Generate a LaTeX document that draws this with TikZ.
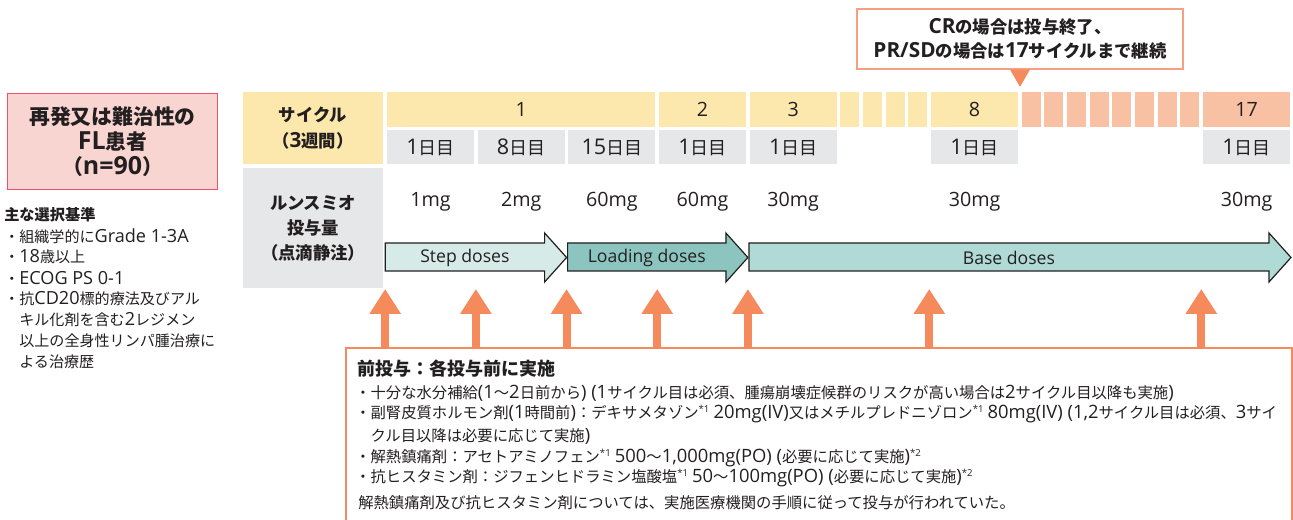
\documentclass[tikz,border=0pt]{standalone}
\usepackage{fontspec}
\setmainfont{Open Sans}[Scale=1.2]
\newfontfamily\latinfont{Open Sans}[Scale=1.2]
\newfontfamily\cjkfont{Noto Sans CJK JP}
\usetikzlibrary{arrows.meta}

% switch to the Japanese face for kana, kanji and full-width forms
\XeTeXinterchartokenstate=1
\newXeTeXintercharclass\cjkclass
\newcount\cjkcode
\cjkcode="3000
\loop \XeTeXcharclass\cjkcode=\cjkclass \advance\cjkcode by 1 \ifnum\cjkcode<"A000 \repeat
\cjkcode="FF00
\loop \XeTeXcharclass\cjkcode=\cjkclass \advance\cjkcode by 1 \ifnum\cjkcode<"FFF0 \repeat
\XeTeXinterchartoks 0 \cjkclass = {\cjkfont}
\XeTeXinterchartoks 4095 \cjkclass = {\cjkfont}
\XeTeXinterchartoks \cjkclass 0 = {\latinfont}
\XeTeXinterchartoks 4095 0 = {\latinfont}

\newcommand\notemark[1]{\textsuperscript{\fontsize{6}{6}\selectfont #1}}

\definecolor{ink}{HTML}{231F20}
\definecolor{cyclebg}{HTML}{FCE8AD}
\definecolor{latebg}{HTML}{F9C1A3}
\definecolor{daybg}{HTML}{E6E7E8}
\definecolor{pinkbg}{HTML}{F9D5D1}
\definecolor{pinkline}{HTML}{E9546B}
\definecolor{orangeline}{HTML}{F58A5D}
\definecolor{calloutline}{HTML}{F4A081}
\definecolor{stepbg}{HTML}{D6EBE8}
\definecolor{loadbg}{HTML}{8CC5C0}
\definecolor{basebg}{HTML}{AFDAD6}

\begin{document}
\begin{tikzpicture}[
    x=0.75pt, y=-0.75pt,
    every node/.style={text=ink, inner sep=0pt},
    headcell/.style={fill=#1, minimum width=105pt, align=center,
        font=\fontsize{13}{20}\selectfont\bfseries},
    num/.style={font=\fontsize{12.3}{16}\selectfont},
    day/.style={font=\fontsize{13.5}{16}\selectfont},
    band/.style={draw=ink, line width=0.9pt},
    bandlabel/.style={font=\fontsize{11}{15}\selectfont},
    premed/.style={draw=orangeline, line width=6pt,
        -{Triangle[width=22.5pt,length=18.75pt]}},
    crit/.style={anchor=west, font=\fontsize{11.3}{13}\selectfont},
    body/.style={anchor=west, font=\fontsize{11.5}{13}\selectfont}
]
    \useasboundingbox (0,0) rectangle (1293,520);
    \clip (0,0) rectangle (1293,520);

    % patients
    \node[fill=pinkbg, draw=pinkline, line width=0.8pt,
          minimum width=158pt, minimum height=72.5pt, align=center,
          font=\fontsize{15.6}{18.75}\selectfont\bfseries]
        (patient) at (112.5,141.5) {再発又は難治性の\\FL患者\\（n=90）};

    \node[crit, font=\fontsize{11.4}{13}\selectfont\bfseries] (crithead) at (4,215) {主な選択基準};
    \node[crit] (crit1) at (4,236) {・組織学的にGrade 1-3A};
    \node[crit] (crit2) at (4,257) {・18歳以上};
    \node[crit] (crit3) at (4,278) {・ECOG PS 0-1};
    \node[crit] (crit4) at (4,299) {・抗CD20標的療法及びアル};
    \node[crit] (crit5) at (4,320) {　キル化剤を含む2レジメン};
    \node[crit] (crit6) at (4,341) {　以上の全身性リンパ腫治療に};
    \node[crit] (crit7) at (4,362) {　よる治療歴};

    % row headers
    \node[headcell=cyclebg, minimum height=54pt] (cyclehead) at (313,128) {サイクル\\（3週間）};
    \node[headcell=daybg, minimum height=90pt, font=\fontsize{13}{18.75}\selectfont\bfseries]
        (dosehead) at (313,228) {ルンスミオ\\投与量\\（点滴静注）};

    % cycles (one unit = 22.67)
    \foreach \a/\b/\lab in {0/12/1, 12/16/2, 16/20/3, 24/28/8} {
        \fill[cyclebg] ({387+\a*22.67},92) rectangle ({387+\b*22.67-3.7},127);
        \node[num] (cyc\lab) at ({387+(\a+\b)*11.335-1.85},109.5) {\lab};
    }
    \foreach \a in {20,...,23}
        \fill[cyclebg] ({387+\a*22.67},92) rectangle ({387+(\a+1)*22.67-3.7},127);
    \foreach \a in {28,...,35}
        \fill[latebg] ({387+\a*22.67},92) rectangle ({387+(\a+1)*22.67-3.7},127);
    \fill[latebg] ({387+36*22.67},92) rectangle ({387+40*22.67-3.7},127);
    \node[num] (cyc17) at ({387+38*22.67-1.85},109.5) {17};

    % days and doses
    \foreach \a/\d/\mg/\nm in {0/1/1/a, 4/8/2/b, 8/15/60/c, 12/1/60/d, 16/1/30/e, 24/1/30/f, 36/1/30/g} {
        \fill[daybg] ({387+\a*22.67},130) rectangle ({387+(\a+4)*22.67-3.7},164);
        \node[day] (day\nm) at ({387+(\a+2)*22.67-1.85},147) {\d 日目};
        \node[num] (dose\nm) at ({387+(\a+2)*22.67-1.85},202) {\mg mg};
    }

    % dose bands
    \foreach \xa/\xt/\col/\lab/\nm in {385.2/566.6/stepbg/Step doses/stepband,
                                       567.6/747.9/loadbg/Loading doses/loadband,
                                       748.9/1291/basebg/Base doses/baseband} {
        \draw[band, fill=\col] (\xa,243) -- ({\xt-22},243) -- ({\xt-22},233) -- (\xt,257.5)
            -- ({\xt-22},282) -- ({\xt-22},271) -- (\xa,271) -- cycle;
        \node[bandlabel] (\nm) at ({(\xa+\xt-22)/2},257.5) {\lab};
    }

    % callout
    \node[draw=calloutline, line width=0.8pt, fill=white, minimum width=244.5pt,
          minimum height=45pt, align=center, font=\fontsize{13}{18}\selectfont\bfseries]
        (callout) at (1020,39) {CRの場合は投与終了、\\PR/SDの場合は17サイクルまで継続};
    \fill[orangeline] ([xshift=-7.5pt]callout.south) -- ([xshift=7.5pt]callout.south)
        -- ([yshift=-13pt]callout.south) -- cycle;

    % premedication
    \node[draw=orangeline, line width=1.5pt, minimum width=709.5pt, minimum height=144pt]
        (pre) at (819,444) {};
    \foreach \k in {0,4,8,12,16,24,36} {
        \coordinate (tip\k) at ({385.2+\k*22.67},289);
        \draw[premed] (tip\k |- pre.north) -- (tip\k);
    }

    \node[body, font=\fontsize{13.5}{16}\selectfont\bfseries] (pretitle) at (357,369) {前投与：各投与前に実施};
    \node[body] (pre1) at (355,393) {・十分な水分補給(1～2日前から) (1サイクル目は必須、腫瘍崩壊症候群のリスクが高い場合は2サイクル目以降も実施)};
    \node[body] (pre2) at (355,414) {・副腎皮質ホルモン剤(1時間前)：デキサメタゾン\notemark{*1} 20mg(IV)又はメチルプレドニゾロン\notemark{*1} 80mg(IV) (1,2サイクル目は必須、3サイ};
    \node[body] (pre3) at (355,436) {　クル目以降は必要に応じて実施)};
    \node[body] (pre4) at (355,458) {・解熱鎮痛剤：アセトアミノフェン\notemark{*1} 500～1,000mg(PO) (必要に応じて実施)\notemark{*2}};
    \node[body] (pre5) at (355,478) {・抗ヒスタミン剤：ジフェンヒドラミン塩酸塩\notemark{*1} 50～100mg(PO) (必要に応じて実施)\notemark{*2}};
    \node[body] (pre6) at (358,503) {解熱鎮痛剤及び抗ヒスタミン剤については、実施医療機関の手順に従って投与が行われていた。};
\end{tikzpicture}
\end{document}
